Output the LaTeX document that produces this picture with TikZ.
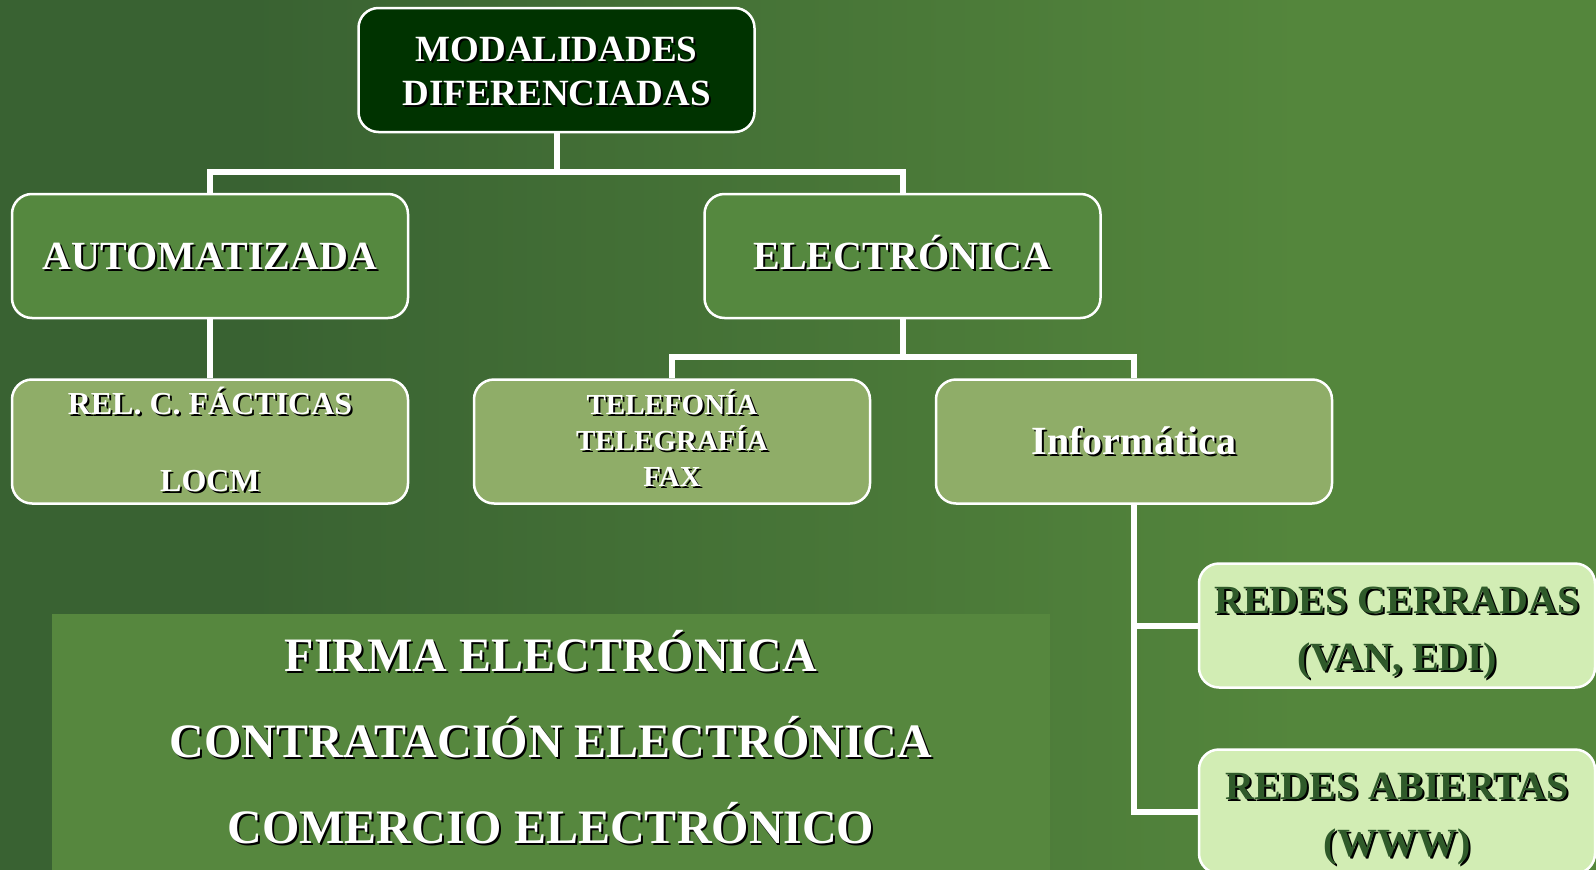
\documentclass[tikz,border=0pt]{standalone}
\usepackage{fontspec}
\setmainfont{Liberation Serif}
\usepackage{xcolor}
\usepackage{tikz}
\usetikzlibrary{positioning}
\definecolor{bgdark}{RGB}{57,98,50}
\definecolor{bglight}{RGB}{84,134,60}
\definecolor{titlegreen}{RGB}{0,51,0}
\definecolor{modegreen}{RGB}{85,136,63}
\definecolor{meansgreen}{RGB}{143,173,104}
\definecolor{netgreen}{RGB}{210,237,180}
\definecolor{nettext}{RGB}{47,90,42}
\definecolor{panelgreen}{RGB}{86,135,62}
\newcommand{\shd}[1]{\leavevmode\rlap{\kern2pt\raisebox{-2pt}{\color{black}#1}}#1}
\tikzset{
box/.style = { rectangle, draw = white, line width = 2.5pt, rounded corners = 20pt, minimum width = 396pt, minimum height = 124pt, align = center, text = white, text depth = 0pt },
title box/.style = { box, fill = titlegreen, font = \bfseries\fontsize{37}{44.7}\selectfont, text height = 71.6pt },
mode box/.style = { box, fill = modegreen, font = \bfseries\fontsize{40}{48}\selectfont, text height = 26.4pt },
means box/.style = { box, fill = meansgreen },
net box/.style = { box, fill = netgreen, text = nettext, font = \bfseries\fontsize{40}{57}\selectfont },
panel/.style = { rectangle, fill = panelgreen, minimum width = 998pt, minimum height = 256pt, align = center, text = white, font = \bfseries\fontsize{48}{86}\selectfont, text height = 202.6pt, text depth = 0pt },
link/.style = { draw = white, line width = 6pt },
}
\begin{document}
\begin{tikzpicture}[x = 1pt, y = -1pt]
  \useasboundingbox (0, 0) rectangle (1596, 870);
  \clip (0, 0) rectangle (1596, 870);
  % background
  \fill[bgdark] (0, 0) rectangle (250, 870);
  \shade[left color = bgdark, right color = bglight] (249, 0) rectangle (1301, 870);
  \fill[bglight] (1300, 0) rectangle (1596, 870);

  \node[panel] (topics) at (551, 742) {\shd{FIRMA ELECTRÓNICA}\\\shd{CONTRATACIÓN ELECTRÓNICA}\\\shd{COMERCIO ELECTRÓNICO}};

  \node[title box] (title) at (556.5, 70) {\shd{MODALIDADES}\\\shd{DIFERENCIADAS}};
  \node[mode box] (auto) at (210, 256) {\shd{AUTOMATIZADA}};
  \node[mode box] (elec) at (902.5, 256) {\shd{ELECTRÓNICA}};
  \node[means box, font = \bfseries\fontsize{32}{76.3}\selectfont, text height = 99pt] (rel) at (210, 441.5) {\shd{REL. C. FÁCTICAS}\\\shd{LOCM}};
  \node[means box, font = \bfseries\fontsize{29}{35.65}\selectfont, text height = 89pt] (tel) at (672, 441.5) {\shd{TELEFONÍA}\\\shd{TELEGRAFÍA}\\\shd{FAX}};
  \node[means box, font = \bfseries\fontsize{40}{48}\selectfont, text height = 26.4pt] (info) at (1134, 441.5) {\shd{Informática}};
  \node[net box, text height = 90.6pt] (closed) at (1397, 625.5) {\shd{REDES CERRADAS}\\\shd{(VAN, EDI)}};
  \node[net box, text height = 89pt] (open) at (1397, 811.5) {\shd{REDES ABIERTAS}\\\shd{(WWW)}};

  \draw[link] (title.south) -- ++(0, 39) -| (auto.north);
  \draw[link] (title.south) ++(0, 39) -| (elec.north);
  \draw[link] (auto.south) -- (rel.north);
  \draw[link] (elec.south) -- ++(0, 38) -| (tel.north);
  \draw[link] (elec.south) ++(0, 38) -| (info.north);
  \draw[link] (info.south) |- (closed.west);
  \draw[link] (info.south) |- (open.west);
\end{tikzpicture}
\end{document}
